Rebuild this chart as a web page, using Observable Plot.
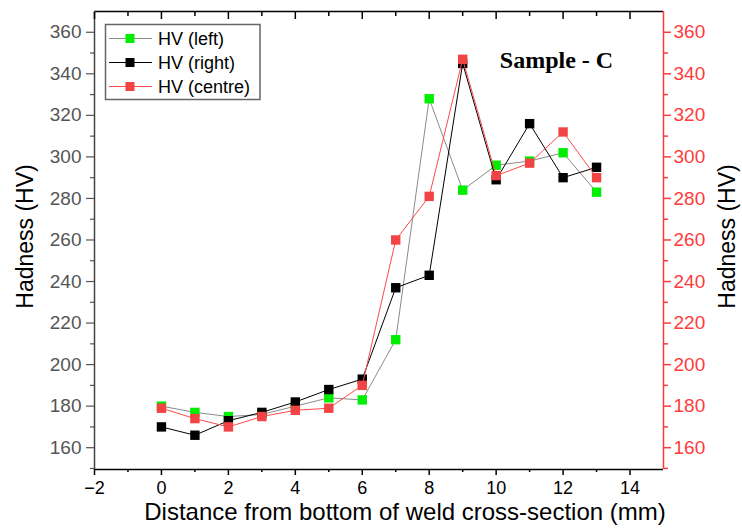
<!DOCTYPE html>
<html>
<head>
<meta charset="utf-8">
<script src="https://cdn.jsdelivr.net/npm/d3@7"></script>
<script src="https://cdn.jsdelivr.net/npm/@observablehq/plot@0.6"></script>
<style>
  html, body { margin: 0; padding: 0; background: #fff; }
  #chart svg { display: block; }
</style>
</head>
<body>
<div id="chart"></div>
<script>
// ---- data ----
const distance = [0, 1, 2, 3, 4, 5, 6, 7, 8, 9, 10, 11, 12, 13];
const hvLeft   = [180, 177, 175, 176, 180, 184, 183, 212, 328, 284, 296, 298, 302, 283];
const hvRight  = [170, 166, 173, 177, 182, 188, 193, 237, 243, 345, 289, 316, 290, 295];
const hvCentre = [179, 174, 170, 175, 178, 179, 190, 260, 281, 347, 291, 297, 312, 290];
const seriesNames = ["HV (left)", "HV (right)", "HV (centre)"];
const xMajorTicks = [-2, 0, 2, 4, 6, 8, 10, 12, 14];
const xMinorTicks = [-1, 1, 3, 5, 7, 9, 11, 13];
const yMajorTicks = [160, 180, 200, 220, 240, 260, 280, 300, 320, 340, 360];
const yMinorTicks = [150, 170, 190, 210, 230, 250, 270, 290, 310, 330, 350];
const xDomain = [-2, 15];
const yDomain = [149.5, 370];
const xTitle = "Distance from bottom of weld cross-section (mm)";
const yTitle = "Hadness (HV)";
const annotation = "Sample - C";

// ---- styles ----
const lineColors = ["#8a8a8a", "#000000", "#ff4a4a"];
const markColors = ["#00ee00", "#000000", "#f24444"];
const red = "#ff3b3b";

const seriesValues = [hvLeft, hvRight, hvCentre];
const data = seriesValues.map((vals, i) => distance.map((d, j) => ({x: d, y: vals[j], s: i})));

const seriesMarks = data.flatMap((rows, i) => [
  Plot.line(rows, {x: "x", y: "y", stroke: lineColors[i], strokeWidth: 1}),
  Plot.dot(rows, {x: "x", y: "y", symbol: "square", r: 5.3, fill: markColors[i], stroke: "none"})
]);

const noText = () => "";

const chart = Plot.plot({
  width: 742,
  height: 529,
  marginLeft: 94,
  marginRight: 79,
  marginTop: 11,
  marginBottom: 60,
  x: {domain: xDomain},
  y: {domain: yDomain},
  style: {fontFamily: "'Liberation Sans', Arial, sans-serif", fontSize: "19px", background: "#fff", color: "#000"},
  marks: [
    // frame
    Plot.ruleY([yDomain[0]], {stroke: "#000", strokeWidth: 1.5}),
    Plot.ruleY([yDomain[1]], {stroke: "#000", strokeWidth: 1.5}),
    Plot.ruleX([xDomain[0]], {stroke: "#444", strokeWidth: 1.5}),
    Plot.ruleX([xDomain[1]], {stroke: red, strokeWidth: 1.5}),
    // bottom axis
    Plot.axisX({anchor: "bottom", ticks: xMajorTicks, tickSize: 6, tickPadding: 6, label: null, strokeWidth: 1.5, color: "#000", fontSize: 18}),
    Plot.axisX({anchor: "bottom", ticks: xMinorTicks, tickSize: 3, tickFormat: noText, label: null, strokeWidth: 1.5, color: "#000"}),
    // top axis (inward ticks)
    Plot.axisX({anchor: "top", ticks: xMajorTicks, tickSize: -7, tickFormat: noText, label: null, strokeWidth: 1.5, color: "#000"}),
    Plot.axisX({anchor: "top", ticks: xMinorTicks, tickSize: -4, tickFormat: noText, label: null, strokeWidth: 1.5, color: "#000"}),
    // left axis
    Plot.axisY({anchor: "left", ticks: yMajorTicks, tickSize: 8, tickPadding: 5, label: null, strokeWidth: 1.2, color: "#555", fontSize: 19}),
    Plot.axisY({anchor: "left", ticks: yMinorTicks, tickSize: 4, tickFormat: noText, label: null, strokeWidth: 1.2, color: "#555"}),
    // right axis (red)
    Plot.axisY({anchor: "right", ticks: yMajorTicks, tickSize: 7, tickPadding: 3, label: null, strokeWidth: 1.5, color: red, fontSize: 19}),
    Plot.axisY({anchor: "right", ticks: yMinorTicks, tickSize: 4, tickFormat: noText, label: null, strokeWidth: 1.5, color: red}),
    // axis titles
    Plot.text([yTitle], {frameAnchor: "left", textAnchor: "middle", rotate: -90, dx: -69, dy: -4, fontSize: 23, fill: "#000"}),
    Plot.text([yTitle], {frameAnchor: "right", textAnchor: "middle", rotate: -90, dx: 64, dy: -4, fontSize: 23, fill: "#000"}),
    Plot.text([xTitle], {frameAnchor: "bottom", textAnchor: "middle", dx: 26, dy: 50, fontSize: 24, fill: "#000"}),
    // annotation
    Plot.text([annotation], {frameAnchor: "top-left", textAnchor: "middle", dx: 462, dy: 39, fontSize: 24, fontWeight: "bold", fontFamily: "'Liberation Serif', 'Times New Roman', serif", fill: "#000"}),
    ...seriesMarks
  ]
});

document.getElementById("chart").appendChild(chart);

// legend inside the plot area
const svg = d3.select(chart);
const lg = svg.append("g").attr("class", "legend").attr("text-anchor", "start");
lg.append("rect")
  .attr("x", 105.5).attr("y", 24.5).attr("width", 154.5).attr("height", 75)
  .attr("fill", "#fff").attr("stroke", "#666").attr("stroke-width", 1.5);
seriesNames.forEach((name, i) => {
  const cy = 38.5 + i * 24;
  lg.append("line").attr("x1", 109).attr("x2", 152).attr("y1", cy).attr("y2", cy)
    .attr("stroke", lineColors[i]).attr("stroke-width", 1);
  lg.append("rect").attr("x", 125.5).attr("y", cy - 4.5).attr("width", 9).attr("height", 9)
    .attr("fill", markColors[i]);
  lg.append("text").attr("x", 158).attr("y", cy).attr("dy", "0.35em")
    .attr("text-anchor", "start")
    .attr("font-size", 18).attr("fill", "#000").text(name);
});
</script>
</body>
</html>
